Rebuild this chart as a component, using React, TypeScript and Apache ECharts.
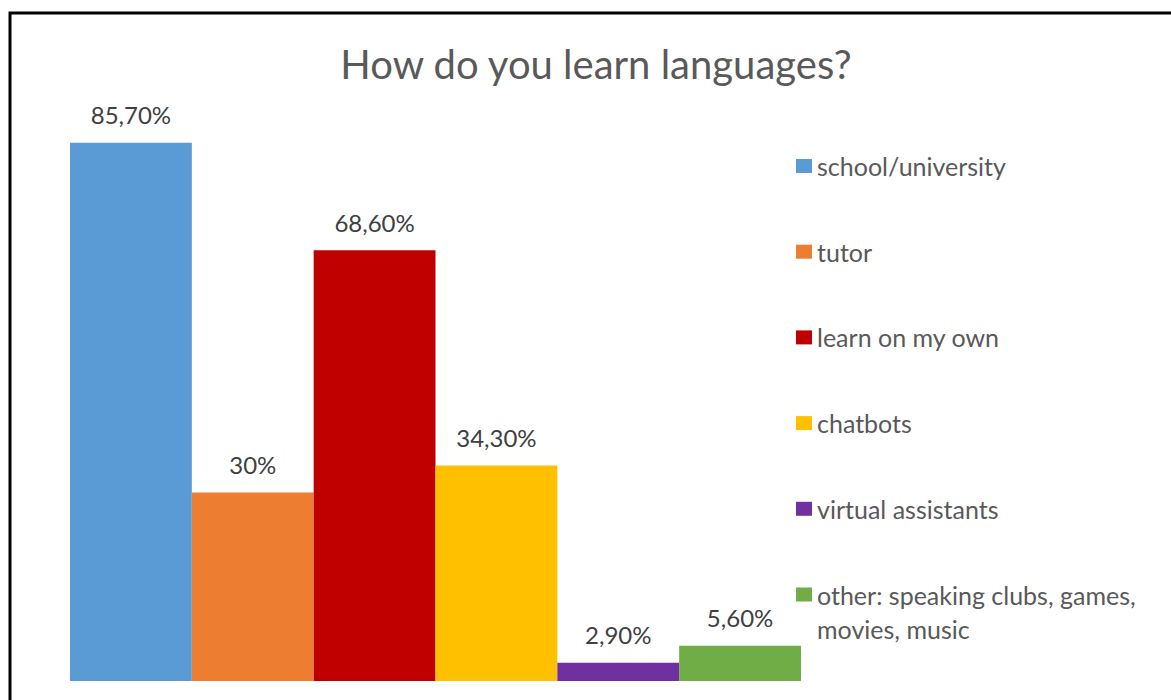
import React, { useEffect, useRef } from "react";
import * as echarts from "echarts";

const categories = ["responses"];
const seriesNames = [
  "school/university",
  "tutor",
  "learn on my own",
  "chatbots",
  "virtual assistants",
  "other: speaking clubs, games, movies, music",
];
const seriesValues = [85.7, 30, 68.6, 34.3, 2.9, 5.6];
const valueLabels = ["85,70%", "30%", "68,60%", "34,30%", "2,90%", "5,60%"];
const seriesColors = ["#5B9BD5", "#ED7D31", "#C00000", "#FFC000", "#7030A0", "#70AD47"];
const titleText = "How do you learn languages?";

const FONT = "Lato";

export default function App() {
  const ref = useRef<HTMLDivElement>(null);
  useEffect(() => {
    if (!ref.current) return;
    const chart = echarts.init(ref.current, undefined, { renderer: "svg" });
    const otherName = seriesNames[5];
    const option: any = {
      animation: false,
      backgroundColor: "#ffffff",
      title: {
        text: titleText,
        left: 596,
        top: 40,
        padding: 0,
        textAlign: "center",
        textStyle: {
          fontFamily: FONT,
          fontSize: 40,
          fontWeight: "normal",
          color: "#595959",
          lineHeight: 48,
        },
      },
      grid: { left: 70, width: 731, top: 53, height: 628 },
      xAxis: {
        type: "category",
        data: categories,
        show: false,
      },
      yAxis: { type: "value", min: 0, max: 100, show: false },
      legend: {
        orient: "vertical",
        left: 796,
        top: 151,
        padding: 0,
        itemWidth: 16,
        itemHeight: 14,
        itemGap: 55.7,
        icon: "rect",
        data: seriesNames,
        formatter: (name: string) =>
          name === otherName ? "other: speaking clubs, games," : name,
        textStyle: {
          fontFamily: FONT,
          fontSize: 25,
          color: "#595959",
          lineHeight: 30,
        },
      },
      graphic: [
        {
          type: "rect",
          shape: { x: 10, y: 13, width: 1300, height: 900 },
          style: { fill: "none", stroke: "#000000", lineWidth: 3 },
          silent: true,
        },
        {
          type: "text",
          left: 817,
          top: 614,
          style: {
            text: "movies, music",
            fontFamily: FONT,
            fontSize: 25,
            fill: "#595959",
            lineHeight: 30,
          },
        },
      ],
      series: seriesNames.map((name, i) => ({
        name,
        type: "bar",
        data: [seriesValues[i]],
        barGap: "0%",
        barCategoryGap: "0%",
        itemStyle: { color: seriesColors[i] },
        label: {
          show: true,
          position: "top",
          distance: 16,
          formatter: () => valueLabels[i],
          fontFamily: FONT,
          fontSize: 24,
          color: "#404040",
          lineHeight: 24,
        },
      })),
    };
    chart.setOption(option);
    return () => chart.dispose();
  }, []);
  return (
    <div
      ref={ref}
      style={{ position: "fixed", left: 0, top: 0, width: 1171, height: 700 }}
    />
  );
}
